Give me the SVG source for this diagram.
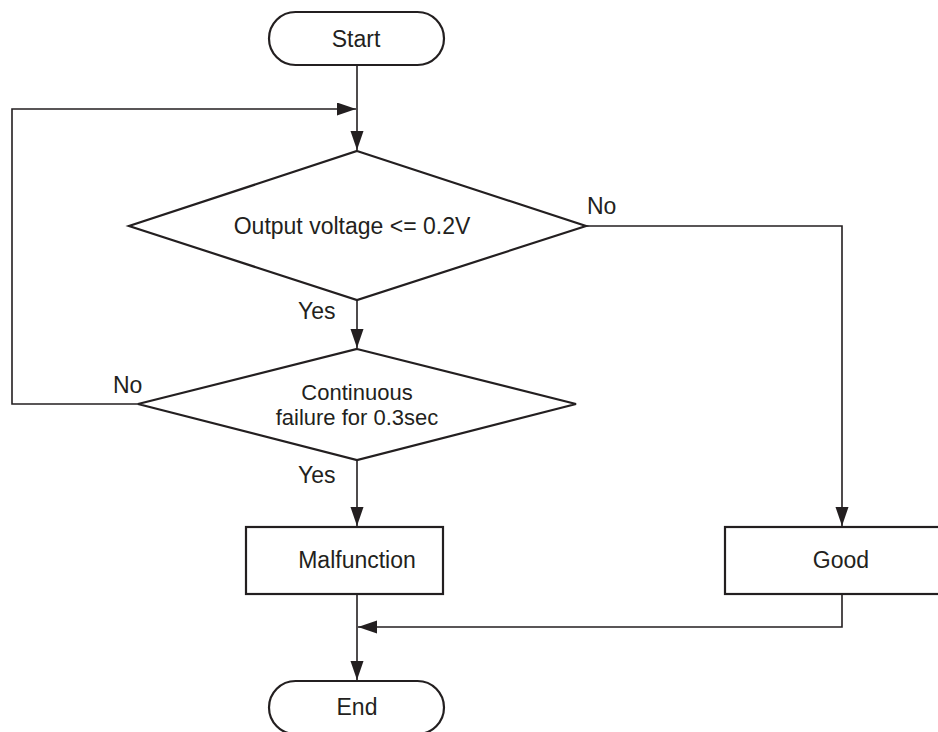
<svg xmlns="http://www.w3.org/2000/svg" width="938" height="732" viewBox="0 0 938 732">
<defs>
<style>
.shape{fill:#fff;stroke:#231f20;stroke-width:2.2}
.line{fill:none;stroke:#231f20;stroke-width:1.6}
text{font-family:"Liberation Sans",Arial,sans-serif;font-size:23px;fill:#231f20;text-anchor:middle}
.lbl{text-anchor:start}
.two{font-size:22px}
</style>
<marker id="arr" markerUnits="userSpaceOnUse" markerWidth="20" markerHeight="14" refX="19" refY="6.5" orient="auto">
<path d="M0,0 L19,6.5 L0,13 Z" fill="#231f20"/>
</marker>
</defs>
<g id="connectors">
<path class="line" d="M357,65 V150" marker-end="url(#arr)"/>
<path class="line" d="M138,404 H12 V109 H356" marker-end="url(#arr)"/>
<path class="line" d="M357,300 V348" marker-end="url(#arr)"/>
<path class="line" d="M586,226 H842 V526" marker-end="url(#arr)"/>
<path class="line" d="M357,460 V526" marker-end="url(#arr)"/>
<path class="line" d="M842,594 V627 H358" marker-end="url(#arr)"/>
<path class="line" d="M357,594 V680" marker-end="url(#arr)"/>
<text class="lbl" x="587" y="214">No</text>
<text class="lbl" x="298" y="319">Yes</text>
<text class="lbl" x="113" y="393">No</text>
<text class="lbl" x="298" y="483">Yes</text>
</g>
<g id="start">
<rect class="shape" x="269" y="12" width="175" height="53" rx="26.5"/>
<text x="356" y="47">Start</text>
</g>
<g id="decision1">
<polygon class="shape" points="357,151 586,226 357,300 129,226"/>
<text x="352" y="234">Output voltage &lt;= 0.2V</text>
</g>
<g id="decision2">
<polygon class="shape" points="357,349 576,404 357,460 138,404"/>
<text class="two" x="357" y="400">Continuous</text>
<text class="two" x="357" y="425">failure for 0.3sec</text>
</g>
<g id="malfunction">
<rect class="shape" x="246" y="527" width="197" height="67"/>
<text x="357" y="568">Malfunction</text>
</g>
<g id="good">
<rect class="shape" x="725" y="527" width="240" height="67"/>
<text x="841" y="568">Good</text>
</g>
<g id="end">
<rect class="shape" x="269" y="681" width="175" height="53" rx="26.5"/>
<text x="357" y="715">End</text>
</g>
</svg>
